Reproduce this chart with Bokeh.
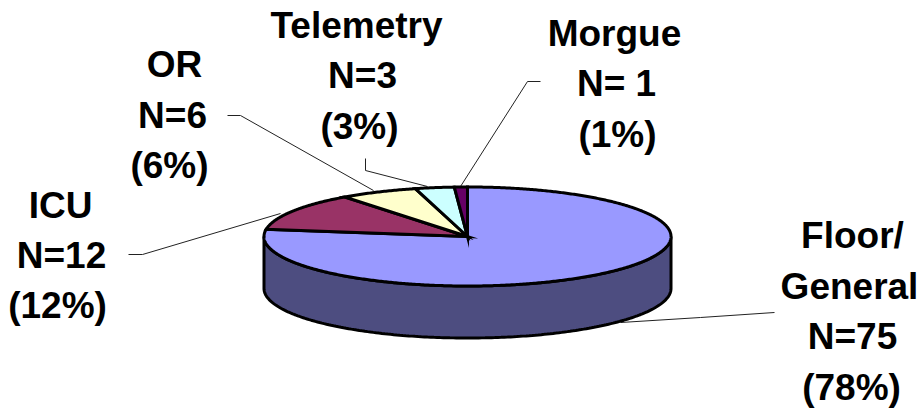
import numpy as np
from bokeh.plotting import figure
from bokeh.embed import file_html
from bokeh.resources import INLINE
from bokeh.core.properties import value

categories = ["Floor/General", "ICU", "OR", "Telemetry", "Morgue"]
counts = [75, 12, 6, 3, 1]
label_lines = [["Floor/", "General", "N=75", "(78%)"],
               ["ICU", "N=12", "(12%)"],
               ["OR", "N=6", "(6%)"],
               ["Telemetry", "N=3", "(3%)"],
               ["Morgue", "N= 1", "(1%)"]]
colors = ["#9999ff", "#993366", "#ffffcc", "#ccffff", "#660066"]
side_color = "#4d4d80"

W, H = 922, 410
CX, CY, RX, RY, DEPTH = 467, 236, 203.5, 49.5, 52

p = figure(width=W, height=H, x_range=(0, W), y_range=(H, 0), toolbar_location=None,
           output_backend="svg", min_border=0, outline_line_color=None, margin=0)
p.xaxis.visible = False
p.yaxis.visible = False
p.grid.visible = False

def pt(t, dy=0):
    # t clockwise from 12 o'clock, in degrees
    r = np.radians(t)
    return CX + RX * np.sin(r), CY - RY * np.cos(r) + dy

# leaders
leaders = [([774, 700, 620], [312, 317, 322]),
           ([128, 142, 280], [254, 254, 213]),
           ([227, 240, 373], [115, 115, 190]),
           ([365, 365, 427], [158, 170, 186]),
           ([540, 527, 460], [81, 81, 186])]
for xs, ys in leaders:
    p.line(xs, ys, line_color="#222222", line_width=1)

# side wall
t = np.linspace(90, 270, 200)
xa, ya = pt(t)
xb, yb = pt(t[::-1], DEPTH)
p.patch(np.r_[xa, xb], np.r_[ya, yb], fill_color=side_color, line_color="black", line_width=3)

# top slices
shares = np.array(counts) / sum(counts) * 360
start = 0.0
for share, c in zip(shares, colors):
    t = np.linspace(start, start + share, max(int(share * 2), 4))
    xs, ys = pt(t)
    p.patch(np.r_[CX, xs], np.r_[CY, ys], fill_color=c, line_color="black", line_width=3,
            line_join="miter")
    start += share

centers = [[852, 849, 852, 851], [60, 61, 57], [174, 172, 169], [356, 362, 359], [614, 616, 617]]
baselines = [[248, 299, 349, 400], [218, 268, 318], [77, 128, 178], [38, 88, 139], [46, 96, 147]]
BASE_SHIFT = -13
for lines, xs, ys in zip(label_lines, centers, baselines):
    p.text(xs, [y + BASE_SHIFT for y in ys], text=lines, text_font=value("Liberation Sans"),
           text_font_style="bold", text_font_size="37px", text_color="black",
           text_align="center", text_baseline="alphabetic")

open("out.html", "w").write(file_html(p, INLINE))
